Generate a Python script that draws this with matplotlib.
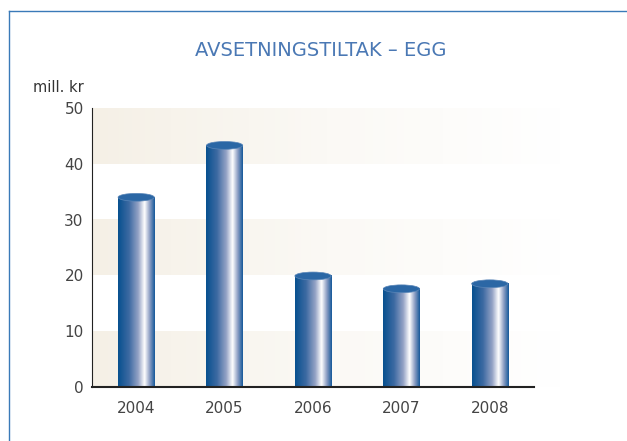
import numpy as np
import matplotlib
matplotlib.use("Agg")
import matplotlib.pyplot as plt
from matplotlib.colors import LinearSegmentedColormap
from matplotlib.patches import Ellipse
from matplotlib.lines import Line2D

# data
years = ["2004", "2005", "2006", "2007", "2008"]
values = [34.0, 43.3, 19.9, 17.6, 18.5]
yticks = [0, 10, 20, 30, 40, 50]

fig = plt.figure(figsize=(6.27, 4.41), dpi=100)
ax = fig.add_axes([92 / 627, 1 - 387 / 441, 442 / 627, 279 / 441])

ax.set_xlim(-0.5, 4.5)
ax.set_ylim(0, 50)

# beige bands fading to white on the right
band = LinearSegmentedColormap.from_list("band", ["#f5f0e6", "#fbf9f5", "#ffffff"])
grad = np.linspace(0, 1, 256).reshape(1, -1)
for lo in [0, 20, 40]:
    ax.imshow(grad, cmap=band, extent=[-0.5, 4.8, lo, lo + 10], aspect="auto",
              zorder=0, clip_on=False, interpolation="bilinear")

# cylinder bars
cyl = LinearSegmentedColormap.from_list(
    "cyl", [(0.0, "#07508f"), (0.3, "#3d6aa2"), (0.55, "#95a3c6"),
            (0.72, "#ffffff"), (0.86, "#8e9fc4"), (1.0, "#15589a")])
w = 0.41
for i, v in enumerate(values):
    ax.imshow(grad, cmap=cyl, extent=[i - w / 2, i + w / 2, 0, v], aspect="auto",
              zorder=2, interpolation="bilinear")
    ax.add_patch(Ellipse((i, v), w, 1.4, facecolor="#2b67a5", edgecolor="#5a86b8",
                         linewidth=0.5, zorder=3))

ax.set_xticks(range(len(years)))
ax.set_xticklabels(years)
ax.set_yticks(yticks)
ax.tick_params(axis="both", length=0, labelsize=11, labelcolor="#444444")
ax.tick_params(axis="x", pad=10)
ax.tick_params(axis="y", pad=6)
for s in ["top", "right"]:
    ax.spines[s].set_visible(False)
ax.spines["left"].set_color("#222222")
ax.spines["bottom"].set_color("#222222")
ax.spines["bottom"].set_linewidth(1.5)

fig.text(321 / 627, 1 - 50 / 441, "AVSETNINGSTILTAK – EGG", ha="center", va="center",
         fontsize=14, color="#4a78b4")
fig.text(33 / 627, 1 - 87 / 441, "mill. kr", ha="left", va="center",
         fontsize=10.5, color="#333333")

# frame lines
fig.add_artist(Line2D([9 / 627, 1], [1 - 11 / 441, 1 - 11 / 441], color="#3a7ab8", lw=1))
fig.add_artist(Line2D([9 / 627, 9 / 627], [0, 1 - 11 / 441], color="#3a7ab8", lw=1))

fig.savefig("out.png", dpi=100)
